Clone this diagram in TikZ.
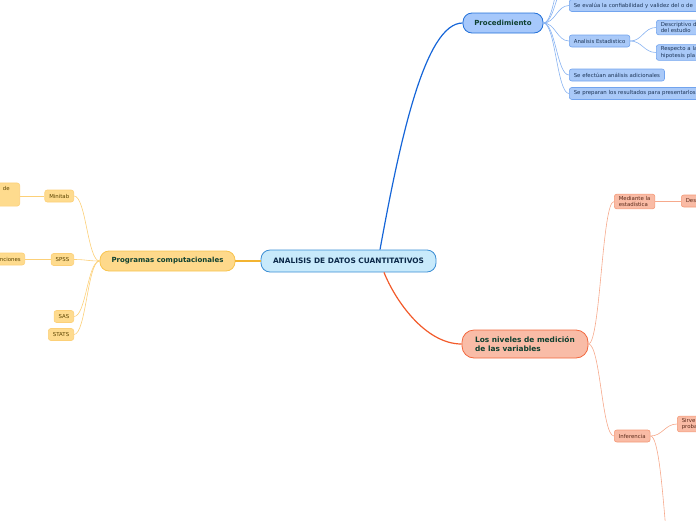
\documentclass[tikz,border=0pt]{standalone}
\usepackage{fontspec}
\setmainfont{DejaVu Sans}

\definecolor{topictext}{HTML}{0E4030}
\definecolor{centerfill}{HTML}{C8EAFB}
\definecolor{centerline}{HTML}{3A8DD4}
\definecolor{centertext}{HTML}{0C2A4A}
\definecolor{procfill}{HTML}{A6C8FB}
\definecolor{procline}{HTML}{2270D8}
\definecolor{bluefill}{HTML}{A9C9F8}
\definecolor{blueline}{HTML}{72A4EE}
\definecolor{bluetext}{HTML}{1D3557}
\definecolor{progfill}{HTML}{FED98B}
\definecolor{progline}{HTML}{F8C44F}
\definecolor{yellowfill}{HTML}{FEDB8E}
\definecolor{yellowline}{HTML}{FCD078}
\definecolor{yellowtext}{HTML}{5A4300}
\definecolor{nivfill}{HTML}{F9BCA7}
\definecolor{nivline}{HTML}{F2683E}
\definecolor{salmonfill}{HTML}{F9BBA5}
\definecolor{salmonline}{HTML}{F49A78}
\definecolor{salmontext}{HTML}{5A2A1A}
\definecolor{mainblue}{HTML}{1565D8}
\definecolor{mainorange}{HTML}{F3B431}
\definecolor{mainred}{HTML}{F25A2A}

\begin{document}
\begin{tikzpicture}[x=1pt, y=-1pt,
    topic/.style={draw, line width=0.8pt, rounded corners=9pt, font=\bfseries\fontsize{7}{8}\selectfont, text=topictext},
    leafbox/.style={draw, line width=0.6pt, rounded corners=2.5pt, font=\fontsize{5.4}{6.5}\selectfont, inner xsep=4.5pt, inner ysep=2pt, minimum height=12pt},
    bluebox/.style={leafbox, fill=bluefill, draw=blueline, text=bluetext},
    yellowbox/.style={leafbox, fill=yellowfill, draw=yellowline, text=yellowtext},
    salmonbox/.style={leafbox, fill=salmonfill, draw=salmonline, text=salmontext},
    blueleaf/.style={line width=0.6pt, draw=blueline!85},
    yellowleaf/.style={line width=0.6pt, draw=yellowline},
    salmonleaf/.style={line width=0.6pt, draw=salmonline!85}]
    \useasboundingbox (0,0) rectangle (696,520);
    \clip (0,0) rectangle (696,520);

    % main topics
    \node[topic, fill=centerfill, draw=centerline, text=centertext, font=\bfseries\fontsize{7.4}{8}\selectfont, minimum width=175pt, minimum height=22pt] (central) at (348.5,261) {ANALISIS DE DATOS CUANTITATIVOS};
    \node[topic, fill=procfill, draw=procline, minimum width=80pt, minimum height=20pt] (proc) at (503,23) {Procedimiento};
    \node[topic, fill=progfill, draw=progline, minimum width=135pt, minimum height=20pt] (prog) at (167.5,261) {Programas computacionales};
    \node[topic, fill=nivfill, draw=nivline, font=\bfseries\fontsize{7.4}{8.6}\selectfont, align=left, minimum width=126pt, minimum height=28pt, rounded corners=12pt] (niveles) at (525,344) {Los niveles de medición\\de las variables};

    % Procedimiento
    \node[bluebox, anchor=west, text width=200pt, align=left] (evalua) at (569,5.5) {Se evalúa la confiabilidad y validez del o de};
    \node[bluebox, anchor=west] (estad) at (569,41) {Analisis Estadistico};
    \node[bluebox, anchor=west] (efectuan) at (569,75) {Se efectúan análisis adicionales};
    \node[bluebox, anchor=west, text width=200pt, align=left] (preparan) at (569,93.5) {Se preparan los resultados para presentarlos};
    \node[bluebox, anchor=west, text width=100pt, align=left] (descr) at (656,27.5) {Descriptivo d\\del estudio};
    \node[bluebox, anchor=west, text width=100pt, align=left] (respecto) at (656,52.5) {Respecto a la\\hipotesis pla};
    \coordinate (up1) at (569,-20);
    \coordinate (up2) at (569,-40);

    % Programas computacionales
    \node[yellowbox, anchor=east] (minitab) at (74,196) {Minitab};
    \node[yellowbox, anchor=east] (spss) at (74,259.5) {SPSS};
    \node[yellowbox, anchor=east] (sas) at (74,316.5) {SAS};
    \node[yellowbox, anchor=east] (stats) at (74,334.5) {STATS};
    \node[yellowbox, anchor=east, text width=40pt, align=right, inner xsep=10pt, inner ysep=3pt] (minnote) at (20,194.5) {de\\\mbox{}\\\mbox{}};
    \node[yellowbox, anchor=east, text width=60pt, align=right, inner xsep=4pt] (spssnote) at (25,259) {nciones};

    % niveles de medicion
    \node[salmonbox, anchor=west, align=left] (mediante) at (614,201.5) {Mediante la\\estadística};
    \node[salmonbox, anchor=west] (inferencia) at (614,436) {Inferencia};
    \node[salmonbox, anchor=west, text width=60pt, align=left] (des) at (681,201) {Des};
    \node[salmonbox, anchor=west, text width=60pt, align=left] (sirve) at (677,424) {Sirve\\proba};
    \coordinate (infdown) at (681,620);

    % main branches
    \draw[line width=1.2pt, mainblue] ([xshift=31.5pt]central.north) .. controls (400,140) and (425,23) .. (proc.west);
    \draw[line width=1.2pt, mainred] ([xshift=35.5pt]central.south) .. controls (395,300) and (425,344) .. (niveles.west);
    \draw[line width=1.2pt, mainorange] (central.west) -- (prog.east);

    % sub branches
    \foreach \n in {evalua, estad, efectuan, preparan}
        \draw[blueleaf] (proc.east) .. controls +(12,0) and +(-12,0) .. (\n.west);
    \foreach \n in {up1, up2}
        \draw[blueleaf] (proc.east) .. controls +(12,0) and +(-12,0) .. (\n);
    \foreach \n in {descr, respecto}
        \draw[blueleaf] (estad.east) .. controls +(12,0) and +(-12,0) .. (\n.west);
    \foreach \n in {minitab, spss, sas, stats}
        \draw[yellowleaf] (prog.west) .. controls +(-12,0) and +(12,0) .. (\n.east);
    \draw[yellowleaf] (minitab.west) -- (minnote.east |- minitab.west);
    \draw[yellowleaf] (spss.west) -- (spssnote.east |- spss.west);
    \foreach \n in {mediante, inferencia}
        \draw[salmonleaf] (niveles.east) .. controls +(12,0) and +(-12,0) .. (\n.west);
    \draw[salmonleaf] (mediante.east) -- (des.west |- mediante.east);
    \draw[salmonleaf] (inferencia.east) .. controls +(12,0) and +(-12,0) .. (sirve.west);
    \draw[salmonleaf] (inferencia.east) .. controls +(15,0) and +(-15,0) .. (infdown);
\end{tikzpicture}
\end{document}
